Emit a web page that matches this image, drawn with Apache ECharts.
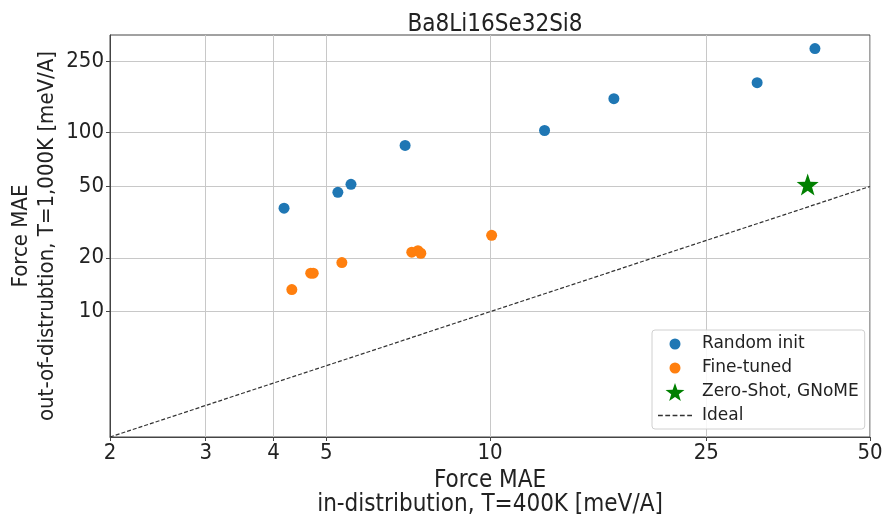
<!DOCTYPE html>
<html>
<head>
<meta charset="utf-8">
<script src="https://cdn.jsdelivr.net/npm/echarts@6/dist/echarts.min.js"></script>
<style>html,body{margin:0;padding:0;background:#fff;}#c{width:886px;height:518px;}</style>
</head>
<body>
<div id="c"></div>
<script>
const titleText = 'Ba8Li16Se32Si8';
const xTicks = [2, 3, 4, 5, 10, 25, 50];
const yTicks = [10, 20, 50, 100, 250];
const randomInit = [[4.18, 37.8], [5.25, 46.4], [5.55, 51.4], [6.98, 84.7], [12.6, 102.6], [16.9, 154.5], [31.0, 189.6], [39.6, 294]];
const fineTuned = [[4.32, 13.3], [4.68, 16.4], [4.73, 16.4], [5.34, 18.8], [7.18, 21.5], [7.37, 21.9], [7.46, 21.2], [10.07, 26.7]];
const zeroShot = [[38.4, 51.2]];
const ideal = [[2, 2], [50, 50]];

const font = 'DejaVu Sans Condensed';
const star = 'path://M0,-10 L2.35,-3.24 L9.51,-3.09 L3.8,1.24 L5.88,8.09 L0,4 L-5.88,8.09 L-3.8,1.24 L-9.51,-3.09 L-2.35,-3.24 Z';
const legendCircle = 'path://M-9,-9h0.01v0.01h-0.01zM9,9h-0.01v-0.01h0.01zM5.5,0A5.5,5.5,0,1,1,-5.5,0A5.5,5.5,0,1,1,5.5,0z';
const dash = 'path://M0,0h4.6v1.3h-4.6zM7,0h4.6v1.3h-4.6zM14,0h4.6v1.3h-4.6zM21,0h4.6v1.3h-4.6zM28,0h4.6v1.3h-4.6z';
const chart = echarts.init(document.getElementById('c'));
chart.setOption({
  animation: false,
  backgroundColor: '#fff',
  title: { text: titleText, left: 490, textAlign: 'center', top: 8, textStyle: { fontFamily: font, fontSize: 24, fontWeight: 'normal', color: '#222' } },
  grid: { left: 110, right: 16, top: 35, bottom: 81, show: true, borderColor: '#444', borderWidth: 1, containLabel: false, outerBoundsMode: 'none' },
  xAxis: {
    type: 'log', logBase: 10, min: 2, max: 50,
    name: 'Force MAE\nin-distribution, T=400K [meV/A]', nameLocation: 'middle', nameGap: 32,
    nameTextStyle: { fontFamily: font, fontSize: 24, color: '#222', lineHeight: 24 },
    axisLine: { show: true, lineStyle: { color: '#444' } },
    axisTick: { show: true, customValues: xTicks, length: 4, lineStyle: { color: '#444' } },
    axisLabel: { customValues: xTicks, fontFamily: font, fontSize: 22, color: '#222', margin: 5 },
    splitLine: { show: true, lineStyle: { color: '#c8c8c8', width: 1 } },
    minorTick: { show: false }, minorSplitLine: { show: false }
  },
  yAxis: {
    type: 'log', logBase: 10, min: 2, max: 350,
    name: 'Force MAE\nout-of-distrubtion, T=1,000K [meV/A]', nameLocation: 'middle', nameGap: 50, nameRotate: 90,
    nameMoveOverlap: false,
    nameTextStyle: { fontFamily: font, fontSize: 22, color: '#222', lineHeight: 26 },
    axisLine: { show: true, lineStyle: { color: '#444' } },
    axisTick: { show: true, customValues: yTicks, length: 4, lineStyle: { color: '#444' } },
    axisLabel: { customValues: yTicks, fontFamily: font, fontSize: 22, color: '#222', margin: 6 },
    splitLine: { show: true, lineStyle: { color: '#c8c8c8', width: 1 } },
    minorTick: { show: false }, minorSplitLine: { show: false }
  },
  legend: {
    orient: 'vertical', left: 652, top: 330, width: 210,
    backgroundColor: 'rgba(255,255,255,0.85)', borderColor: '#d0d0d0', borderWidth: 1, borderRadius: 3,
    padding: [5, 6, 5, 6], itemGap: 6, itemWidth: 34, itemHeight: 18,
    textStyle: { fontFamily: 'DejaVu Sans', fontSize: 17, color: '#222', padding: [0, 0, 0, 5] },
    data: [
      { name: 'Random init', icon: legendCircle, itemStyle: { color: '#1f77b4' } },
      { name: 'Fine-tuned', icon: legendCircle, itemStyle: { color: '#ff7f0e' } },
      { name: 'Zero-Shot, GNoME', icon: star, itemStyle: { color: '#008000' } },
      { name: 'Ideal', icon: dash, itemStyle: { color: '#333' } }
    ]
  },
  series: [
    { name: 'Ideal', type: 'line', data: ideal, symbol: 'none', z: 1,
      lineStyle: { type: [4, 2], color: '#333', width: 1.2 }, itemStyle: { color: '#333' } },
    { name: 'Random init', type: 'scatter', data: randomInit, symbol: 'circle', symbolSize: 11, itemStyle: { color: '#1f77b4', opacity: 1 } },
    { name: 'Fine-tuned', type: 'scatter', data: fineTuned, symbol: 'circle', symbolSize: 11, itemStyle: { color: '#ff7f0e', opacity: 1 } },
    { name: 'Zero-Shot, GNoME', type: 'scatter', data: zeroShot, symbol: star, symbolSize: 22, itemStyle: { color: '#008000', opacity: 1 } }
  ]
});
</script>
</body>
</html>
